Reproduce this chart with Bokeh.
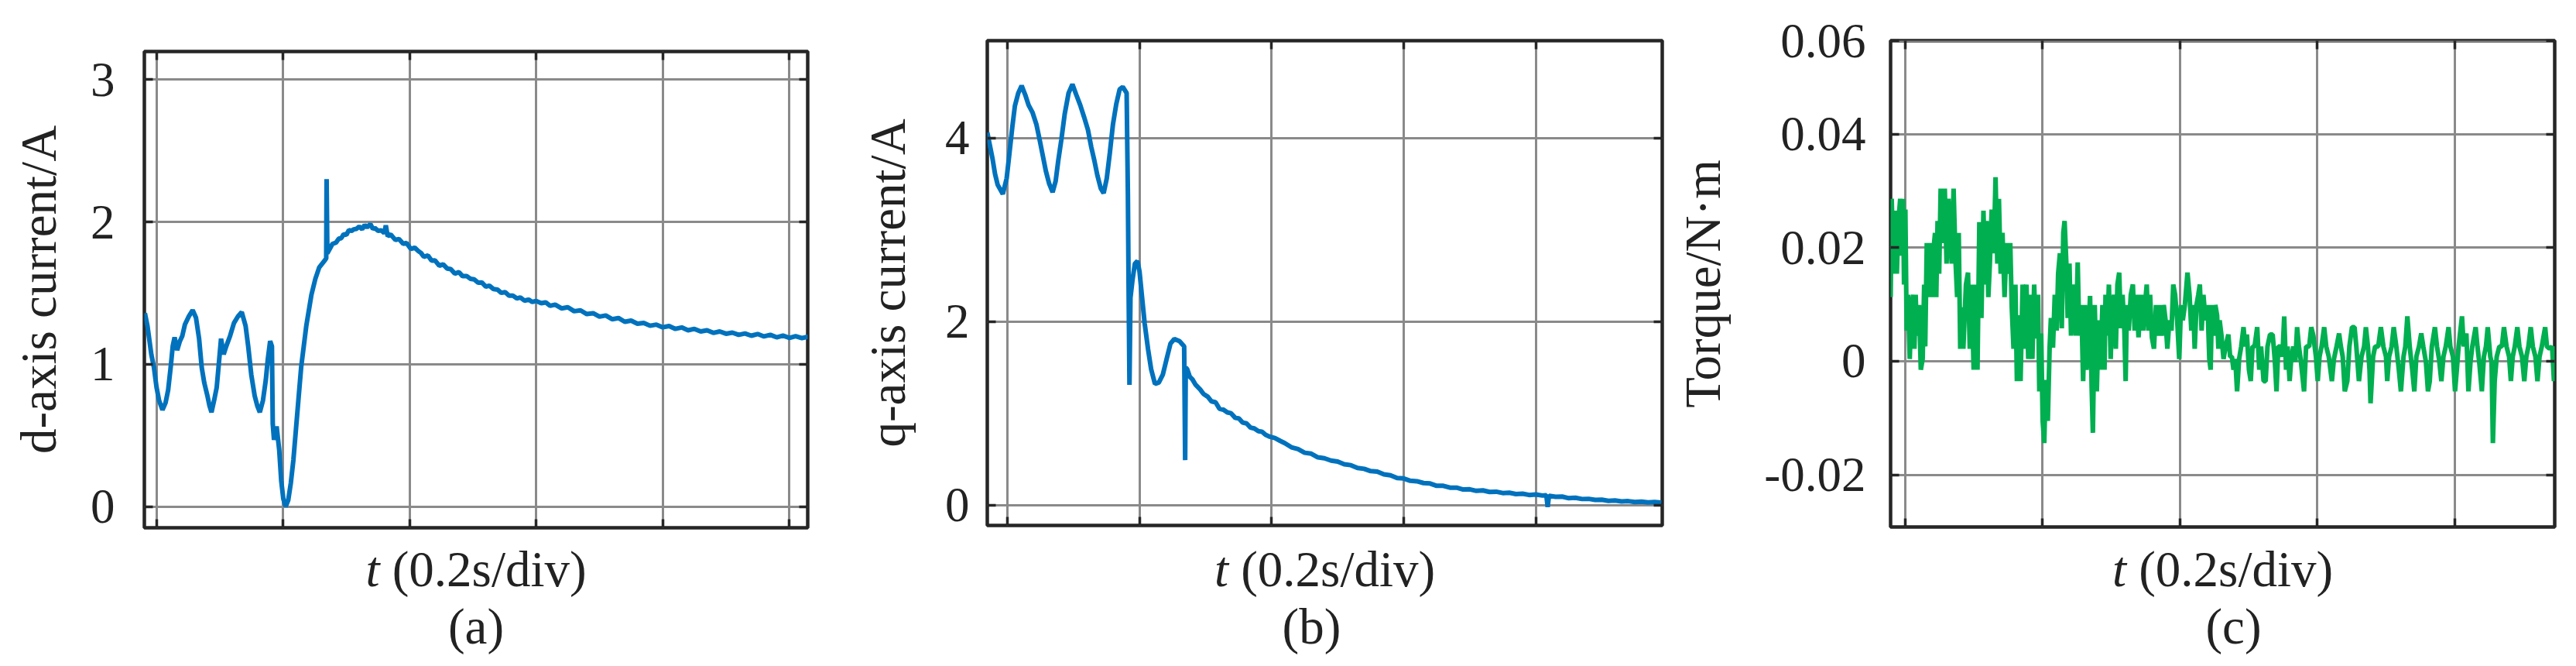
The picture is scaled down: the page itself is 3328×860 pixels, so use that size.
from bokeh.plotting import figure
from bokeh.models import Range1d, FixedTicker, LinearAxis, CustomJSTickFormatter
from bokeh.layouts import row, column
from bokeh.core.properties import value
from bokeh.embed import file_html
from bokeh.resources import INLINE

# ---------------- data ----------------
# (a) d-axis current [A] vs time [s]
t_a = [-0.0184, -0.0143, -0.0082, -0.0041, 0.0, 0.0041, 0.0094, 0.0143, 0.0184, 0.0224, 0.0257, 0.0286,
       0.0327, 0.0367, 0.0408, 0.0449, 0.0510, 0.0571, 0.0624, 0.0673, 0.0714, 0.0755, 0.0804, 0.0837,
       0.0869, 0.0910, 0.0951, 0.0980, 0.1020, 0.1061, 0.1102, 0.1163, 0.1224, 0.1286, 0.1347, 0.1408,
       0.1449, 0.1498, 0.1551, 0.1592, 0.1633, 0.1682, 0.1727, 0.1759, 0.1796, 0.1824, 0.1837, 0.1857,
       0.1898, 0.1939, 0.1971, 0.2004, 0.2041, 0.2082, 0.2122, 0.2163, 0.2204, 0.2245, 0.2286, 0.2327,
       0.2367, 0.2408, 0.2449, 0.2510, 0.2571, 0.2653, 0.2682, 0.2688, 0.2700, 0.2735, 0.2780, 0.2837,
       0.2880, 0.2920, 0.2959, 0.3000, 0.3040, 0.3082, 0.3120, 0.3160, 0.3204, 0.3250, 0.3290, 0.3327,
       0.3380, 0.3420, 0.3449, 0.3500, 0.3551, 0.3600, 0.3624, 0.3653, 0.3700, 0.3776, 0.3830, 0.3898,
       0.3950, 0.4020, 0.4080, 0.4143, 0.4180, 0.4224, 0.4290, 0.4347, 0.4400, 0.4469, 0.4530, 0.4592,
       0.4650, 0.4714, 0.4780, 0.4837, 0.4900, 0.4959, 0.5020, 0.5082, 0.5140, 0.5204, 0.5260, 0.5327,
       0.5390, 0.5449, 0.5510, 0.5571, 0.5630, 0.5694, 0.5750, 0.5816, 0.5880, 0.5939, 0.6000, 0.6080,
       0.6150, 0.6220, 0.6300, 0.6400, 0.6500, 0.6600, 0.6700, 0.6800, 0.6900, 0.7000, 0.7100, 0.7200,
       0.7300, 0.7400, 0.7500, 0.7600, 0.7700, 0.7800, 0.7900, 0.8000, 0.8100, 0.8200, 0.8300, 0.8400,
       0.8500, 0.8600, 0.8700, 0.8800, 0.8900, 0.9000, 0.9100, 0.9200, 0.9300, 0.9400, 0.9500, 0.9600,
       0.9700, 0.9800, 0.9900, 1.0000, 1.0100, 1.0200, 1.0300]
id_a = [1.36, 1.27, 1.07, 0.98, 0.84, 0.746, 0.68, 0.73, 0.82, 0.98, 1.13, 1.19,
        1.10, 1.16, 1.20, 1.28, 1.336, 1.38, 1.327, 1.18, 0.98, 0.87, 0.78, 0.71,
        0.664, 0.746, 0.837, 0.98, 1.18, 1.07, 1.127, 1.20, 1.29, 1.336, 1.367, 1.27,
        1.127, 0.927, 0.78, 0.71, 0.664, 0.746, 0.89, 1.036, 1.163, 1.127, 0.583, 0.47,
        0.565, 0.40, 0.183, 0.056, 0.002, 0.047, 0.165, 0.328, 0.546, 0.764, 0.98, 1.127,
        1.27, 1.38, 1.49, 1.60, 1.68, 1.726, 1.744, 2.30, 1.78, 1.808, 1.845, 1.855,
        1.882, 1.886, 1.914, 1.908, 1.942, 1.937, 1.948, 1.951, 1.968, 1.948, 1.978, 1.962,
        1.985, 1.950, 1.958, 1.938, 1.940, 1.922, 1.975, 1.900, 1.912, 1.873, 1.880, 1.846,
        1.852, 1.810, 1.819, 1.793, 1.782, 1.755, 1.764, 1.728, 1.730, 1.692, 1.702, 1.673,
        1.669, 1.637, 1.647, 1.619, 1.620, 1.601, 1.597, 1.573, 1.575, 1.546, 1.552, 1.528,
        1.525, 1.502, 1.507, 1.483, 1.483, 1.463, 1.470, 1.447, 1.455, 1.438, 1.445, 1.429,
        1.435, 1.411, 1.419, 1.393, 1.401, 1.373, 1.379, 1.353, 1.359, 1.335, 1.343, 1.317,
        1.325, 1.299, 1.307, 1.285, 1.291, 1.271, 1.279, 1.260, 1.269, 1.249, 1.259, 1.239,
        1.249, 1.231, 1.239, 1.221, 1.231, 1.215, 1.223, 1.207, 1.217, 1.201, 1.213, 1.196,
        1.207, 1.190, 1.202, 1.186, 1.198, 1.184, 1.195]

# (b) q-axis current [A] vs time [s]
t_b = [-0.0305, -0.0266, -0.0227, -0.0188, -0.0148, -0.0070, -0.0012, 0.0027, 0.0074, 0.0113, 0.0164,
       0.0215, 0.0270, 0.0320, 0.0379, 0.0438, 0.0488, 0.0535, 0.0582, 0.0633, 0.0684, 0.0730, 0.0770,
       0.0816, 0.0867, 0.0926, 0.0984, 0.1043, 0.1102, 0.1160, 0.1219, 0.1270, 0.1316, 0.1363, 0.1414,
       0.1457, 0.1504, 0.1551, 0.1598, 0.1648, 0.1699, 0.1746, 0.1805, 0.1824, 0.1836, 0.1848, 0.1863,
       0.1895, 0.1930, 0.1969, 0.2000, 0.2039, 0.2078, 0.2129, 0.2176, 0.2234, 0.2293, 0.2352, 0.2410,
       0.2469, 0.2527, 0.2605, 0.2676, 0.2691, 0.2700, 0.2723, 0.2760, 0.2801, 0.2850, 0.2918, 0.2970,
       0.3035, 0.3090, 0.3152, 0.3210, 0.3270, 0.3330, 0.3387, 0.3450, 0.3504, 0.3560, 0.3621, 0.3680,
       0.3738, 0.3800, 0.3855, 0.3910, 0.3973, 0.4050, 0.4129, 0.4200, 0.4300, 0.4400, 0.4500, 0.4600,
       0.4700, 0.4800, 0.4900, 0.5000, 0.5100, 0.5200, 0.5300, 0.5400, 0.5500, 0.5600, 0.5700, 0.5800,
       0.5900, 0.6000, 0.6100, 0.6200, 0.6300, 0.6400, 0.6500, 0.6600, 0.6700, 0.6800, 0.6900, 0.7000,
       0.7100, 0.7200, 0.7300, 0.7400, 0.7500, 0.7600, 0.7700, 0.7800, 0.7900, 0.8000, 0.8100, 0.8160,
       0.8180, 0.8200, 0.8300, 0.8400, 0.8500, 0.8600, 0.8700, 0.8800, 0.8900, 0.9000, 0.9100, 0.9200,
       0.9300, 0.9400, 0.9500, 0.9600, 0.9700, 0.9800, 0.9900]
iq_b = [4.06, 3.92, 3.78, 3.61, 3.49, 3.39, 3.56, 3.81, 4.12, 4.35, 4.49,
        4.57, 4.47, 4.36, 4.28, 4.15, 3.98, 3.81, 3.64, 3.50, 3.41, 3.53, 3.755,
        3.98, 4.26, 4.49, 4.585, 4.47, 4.36, 4.23, 4.09, 3.90, 3.755, 3.59, 3.45,
        3.40, 3.56, 3.84, 4.15, 4.37, 4.53, 4.557, 4.49, 3.39, 2.26, 1.31, 2.26,
        2.46, 2.63, 2.66, 2.545, 2.26, 1.98, 1.70, 1.48, 1.32, 1.336, 1.42, 1.59,
        1.76, 1.81, 1.786, 1.73, 0.49, 1.50, 1.48, 1.40, 1.37, 1.31, 1.26, 1.21,
        1.18, 1.13, 1.12, 1.05, 1.04, 1.01, 1.00, 0.95, 0.945, 0.90, 0.89, 0.845,
        0.835, 0.805, 0.80, 0.765, 0.745, 0.73, 0.70, 0.675, 0.63, 0.61, 0.57, 0.56,
        0.52, 0.51, 0.485, 0.475, 0.445, 0.435, 0.405, 0.395, 0.37, 0.365, 0.335, 0.325,
        0.295, 0.29, 0.265, 0.26, 0.24, 0.235, 0.21, 0.21, 0.19, 0.19, 0.17, 0.172,
        0.155, 0.16, 0.143, 0.146, 0.131, 0.134, 0.12, 0.124, 0.11, 0.116, 0.104, 0.108,
        -0.02, 0.102, 0.09, 0.092, 0.075, 0.08, 0.066, 0.068, 0.056, 0.058, 0.046, 0.050,
        0.040, 0.043, 0.033, 0.038, 0.029, 0.034, 0.027]

# (c) torque [N·m] vs time [ms]
t_c_ms = [-23.5, -21.3, -19.8, -16.8, -14.5, -12.3, -10.0, -7.4, -4.8, -3.3, -1.8, 0.1, 2.0, 3.9, 6.5,
          8.8, 11.4, 13.3, 15.1, 17.0, 20.0, 22.6, 25.3, 27.5, 29.0, 31.3, 33.9, 36.5, 38.8, 40.6,
          43.3, 45.1, 47.0, 49.3, 51.5, 54.5, 57.5, 60.1, 62.8, 65.0, 67.6, 70.3, 73.3, 75.5, 77.8,
          80.0, 81.9, 84.5, 88.3, 91.3, 93.9, 96.5, 99.5, 102.5, 105.1, 107.8, 110.8, 113.8, 116.4,
          118.3, 120.9, 123.1, 125.8, 128.8, 131.4, 134.0, 136.3, 138.9, 141.5, 144.5, 147.5, 150.1,
          152.8, 155.0, 157.6, 160.3, 162.5, 165.1, 167.8, 170.8, 173.8, 176.4, 179.0, 182.0, 185.0,
          187.6, 190.3, 193.3, 195.1, 197.8, 200.0, 202.3, 204.5, 207.5, 210.1, 212.0, 215.0, 217.6,
          220.3, 222.5, 225.1, 227.8, 230.0, 231.9, 234.5, 236.4, 239.0, 241.3, 243.5, 245.8, 248.4,
          251.0, 253.3, 256.3, 258.9, 261.5, 263.8, 266.4, 269.0, 271.3, 273.1, 275.8, 278.8, 281.4,
          284.0, 287.0, 290.0, 291.5, 293.8, 296.4, 299.0, 301.3, 303.9, 306.5, 308.8, 311.4, 314.0,
          316.3, 318.9, 320.8, 322.6, 325.3, 328.3, 331.3, 333.9, 336.5, 339.5, 343.3, 346.3, 348.9,
          351.5, 353.8, 356.4, 359.0, 362.0, 365.0, 367.6, 370.3, 373.3, 376.3, 378.9, 381.5, 384.5,
          387.5, 390.1, 392.8, 395.8, 398.8, 401.4, 404.0, 407.0, 410.8, 413.8, 416.4, 419.0, 421.3,
          423.9, 426.5, 428.8, 431.4, 434.0, 437.0, 440.0, 442.6, 444.5, 446.4, 449.0, 451.3, 453.9,
          455.8, 457.6, 460.3, 463.3, 466.3, 470.3, 472.9, 475.5, 477.8, 480.4, 483.0, 486.0, 489.0,
          492.4, 494.6, 497.3, 500.3, 502.9, 505.5, 508.5, 512.3, 515.3, 517.9, 521.6, 524.6, 527.3,
          531.0, 534.8, 537.8, 540.4, 543.0, 546.0, 549.0, 551.6, 554.3, 556.5, 559.5, 561.8, 564.8,
          567.8, 570.4, 573.0, 576.0, 580.5, 583.5, 588.0, 591.0, 594.0, 597.8, 600.4, 603.0, 606.0,
          609.8, 612.8, 616.5, 621.0, 624.0, 627.8, 631.5, 634.1, 636.8, 639.8, 643.5, 646.5, 650.3,
          654.0, 656.6, 660.4, 664.1, 667.9, 670.5, 673.5, 675.8, 677.3, 681.0, 684.0, 688.5, 692.3,
          696.0, 699.8, 701.6, 704.3, 708.0, 711.0, 714.8, 718.5, 721.5, 725.3, 727.9, 730.9, 734.3,
          738.0, 741.0, 744.0, 747.8, 751.1, 754.1, 757.9, 760.9, 763.5, 766.5, 771.0, 774.0, 777.0,
          780.4, 783.4, 786.8, 790.9, 793.5, 797.3, 800.3, 802.9, 805.5, 810.4, 813.0, 816.8, 819.8,
          822.8, 825.4, 830.3, 832.9, 835.5, 839.3, 842.3, 845.3, 847.9, 851.6, 853.5, 855.4, 858.0,
          861.0, 864.8, 868.5, 871.5, 875.3, 879.0, 881.6, 884.3, 887.3, 891.0, 894.0, 897.8, 901.1,
          904.1, 907.1, 910.5, 913.5, 917.3, 920.3, 923.3, 926.6, 931.5, 934.1, 937.9, 941.6, 944.3,
          947.3]
te_c = [0.0236, 0.0113, 0.0286, 0.0154, 0.0265, 0.0154, 0.0245, 0.0286, 0.0186, 0.0286, 0.0135, 0.0267,
        0.0054, 0.0117, 0.0004, 0.0099, 0.0117, 0.0022, 0.0117, 0.0045, 0.0099, -0.0015, 0.0004, 0.0135,
        0.0026, 0.0208, 0.0113, 0.0208, 0.0113, 0.0190, 0.0226, 0.0113, 0.0247, 0.0154, 0.0304, 0.0208,
        0.0304, 0.0172, 0.0286, 0.0226, 0.0172, 0.0304, 0.0172, 0.0113, 0.0226, 0.0022, 0.0095, 0.0022,
        0.0135, 0.0156, 0.0022, 0.0135, -0.0015, 0.0135, -0.0015, 0.0245, 0.0076, 0.0265, 0.0135, 0.0247,
        0.0113, 0.0172, 0.0267, 0.0190, 0.0324, 0.0172, 0.0286, 0.0154, 0.0226, 0.0113, 0.0208, 0.0154,
        0.0208, 0.0095, 0.0022, 0.0135, -0.0035, 0.0081, -0.0035, 0.0135, 0.0022, 0.0135, 0.0004, 0.0117,
        0.0004, 0.0135, 0.0040, 0.0117, -0.0053, 0.0049, -0.0105, -0.0144, -0.0033, -0.0105, 0.0024,
        0.0076, 0.0024, 0.0117, 0.0054, 0.0154, 0.0190, 0.0058, 0.0226, 0.0247, 0.0172, 0.0076, 0.0172,
        0.0045, 0.0099, 0.0135, 0.0045, 0.0174, 0.0045, 0.0099, -0.0035, 0.0099, -0.0015, 0.0040, 0.0115,
        -0.0046, -0.0126, 0.0099, -0.0053, 0.0072, -0.0015, 0.0099, -0.0015, 0.0117, 0.0045, 0.0135,
        0.0004, 0.0099, 0.0117, 0.0022, 0.0135, 0.0156, 0.0058, 0.0117, 0.0054, -0.0035, 0.0099, 0.0054,
        0.0117, 0.0135, 0.0054, 0.0117, 0.0042, 0.0117, 0.0054, 0.0099, 0.0135, 0.0054, 0.0117, 0.0042,
        0.0022, 0.0099, 0.0045, 0.0099, 0.0045, 0.0099, 0.0072, 0.0022, 0.0072, 0.0054, 0.0135, 0.0117,
        0.0072, 0.0004, 0.0099, 0.0072, 0.0099, 0.0156, 0.0117, 0.0054, 0.0099, 0.0022, 0.0099, 0.0117,
        0.0135, 0.0054, 0.0117, 0.0072, 0.0099, 0.0004, -0.0015, 0.0099, 0.0045, 0.0099, 0.0081, 0.0022,
        0.0072, 0.0045, 0.0004, 0.0026, 0.0047, 0.0008, 0.0008, -0.0015, 0.0004, -0.0053, 0.0004, 0.0026,
        0.0060, 0.0026, 0.0047, -0.0015, -0.0035, 0.0026, 0.0026, 0.0060, -0.0015, 0.0026, -0.0035,
        -0.0035, 0.0026, 0.0047, 0.0047, 0.0004, -0.0053, 0.0026, 0.0026, 0.0008, 0.0079, -0.0015, 0.0026,
        -0.0035, 0.0004, 0.0026, -0.0001, 0.0060, 0.0026, -0.0001, -0.0053, 0.0026, 0.0026, 0.0060, 0.0045,
        0.0008, -0.0035, 0.0008, 0.0026, 0.0060, 0.0026, 0.0008, -0.0035, 0.0004, 0.0026, 0.0049, 0.0026,
        0.0008, -0.0053, -0.0035, 0.0026, 0.0060, 0.0060, 0.0026, -0.0035, 0.0008, 0.0026, 0.0060, 0.0026,
        -0.0015, -0.0074, 0.0008, 0.0026, 0.0026, 0.0060, 0.0026, 0.0008, -0.0035, 0.0008, 0.0026, 0.0060,
        0.0026, -0.0015, -0.0053, 0.0008, 0.0026, 0.0079, 0.0026, -0.0015, -0.0053, 0.0008, 0.0026, 0.0049,
        0.0026, -0.0001, -0.0053, -0.0035, 0.0026, 0.0060, 0.0026, 0.0004, -0.0035, 0.0008, 0.0026, 0.0060,
        0.0026, 0.0008, -0.0053, -0.0015, 0.0026, 0.0079, 0.0026, 0.0049, -0.0053, -0.0001, 0.0026, 0.0060,
        0.0026, -0.0001, -0.0053, 0.0008, 0.0026, 0.0060, 0.0008, -0.0001, -0.0144, -0.0035, 0.0008, 0.0026,
        0.0026, 0.0060, 0.0026, 0.0008, -0.0035, 0.0008, 0.0026, 0.0060, 0.0026, 0.0008, -0.0035, 0.0008,
        0.0026, 0.0060, 0.0026, 0.0008, -0.0035, 0.0008, 0.0026, 0.0060, 0.0026, 0.0022, 0.0026, -0.0035,
        0.0026]
t_c = [v / 1000.0 for v in t_c_ms]

x_grid = [0.0, 0.2, 0.4, 0.6, 0.8, 1.0]
y_ticks_a = [0, 1, 2, 3]
y_ticks_b = [0, 2, 4]
y_ticks_c = [-0.02, 0.0, 0.02, 0.04, 0.0564]
y_labels_c = {-0.02: "-0.02", 0.0: "0", 0.02: "0.02", 0.04: "0.04", 0.0564: "0.06"}
x_title = ["t", "(0.2s/div)"]
tags = ["(a)", "(b)", "(c)"]

# ---------------- style ----------------
FONT = "Liberation Serif"
INK = "#222222"
FRAME = "#262626"
GRID = "#8a8a8a"
BLUE = "#0072BD"
GREEN = "#00AF50"
TICK_FS = "63px"
LAB_FS = "65px"
TOTAL_H = 854
BOTTOM_B = 14
BASE_TITLE = 734   # page y of the x-title baseline (renderer adds ~20px)
BASE_TAG = 808     # page y of the panel-tag baseline


def style_axis(ax, ticker, show_labels):
    ax.ticker = ticker
    ax.axis_line_color = None
    ax.major_tick_in = 11
    ax.major_tick_out = 0
    ax.major_tick_line_color = FRAME
    ax.major_tick_line_width = 3.5
    ax.minor_tick_line_color = None
    ax.major_label_text_font = FONT
    ax.major_label_text_color = INK
    if show_labels:
        ax.major_label_text_font_size = TICK_FS
    else:
        ax.formatter = CustomJSTickFormatter(code="return ''")
        ax.major_label_standoff = 0
        ax.major_label_text_font_size = "0px"


def panel(x, y, color, lw, xr, yr, yticks, ylabel, frame_w, frame_h, bl, br, bt,
          tick_standoff, label_standoff, tag, tag_dx, overrides=None):
    bb = BOTTOM_B
    p = figure(output_backend="svg", toolbar_location=None,
               frame_width=frame_w, frame_height=frame_h,
               x_range=Range1d(*xr), y_range=Range1d(*yr),
               min_border_left=bl, min_border_right=br,
               min_border_top=bt, min_border_bottom=bb)
    p.background_fill_color = "white"
    p.border_fill_color = "white"
    p.outline_line_color = FRAME
    p.outline_line_width = 4.5

    xt = FixedTicker(ticks=x_grid)
    yt = FixedTicker(ticks=yticks)
    style_axis(p.xaxis[0], xt, False)
    style_axis(p.yaxis[0], yt, True)
    p.yaxis[0].major_label_standoff = tick_standoff
    if overrides:
        p.yaxis[0].major_label_overrides = overrides
    p.yaxis[0].axis_label = ylabel
    p.yaxis[0].axis_label_text_font = FONT
    p.yaxis[0].axis_label_text_font_style = "normal"
    p.yaxis[0].axis_label_text_font_size = LAB_FS
    p.yaxis[0].axis_label_text_color = INK
    p.yaxis[0].axis_label_standoff = label_standoff

    r_ax = LinearAxis()
    style_axis(r_ax, yt, False)
    p.add_layout(r_ax, "right")
    t_ax = LinearAxis()
    style_axis(t_ax, xt, False)
    p.add_layout(t_ax, "above")

    p.xgrid.ticker = xt
    p.ygrid.ticker = yt
    p.grid.grid_line_color = GRID
    p.grid.grid_line_width = 3

    p.line(x, y, line_color=color, line_width=lw)

    # caption strip below the plot, same horizontal geometry
    top = bt + frame_h + bb
    cap_h = TOTAL_H - top
    c = figure(output_backend="svg", toolbar_location=None,
               frame_width=frame_w, frame_height=cap_h,
               x_range=Range1d(*xr), y_range=Range1d(cap_h, 0),
               min_border_left=bl, min_border_right=br,
               min_border_top=0, min_border_bottom=0)
    c.axis.visible = False
    c.grid.visible = False
    c.outline_line_color = None
    c.background_fill_color = "white"
    c.border_fill_color = "white"
    xc = (xr[0] + xr[1]) / 2.0
    base1 = BASE_TITLE - top
    base2 = BASE_TAG - top
    c.text(x=[xc], y=[base1], text=[x_title[0]], x_offset=-142.6,
           text_font=value(FONT), text_font_style="italic", text_font_size=LAB_FS,
           text_color=INK, text_align="left", text_baseline="alphabetic")
    c.text(x=[xc], y=[base1], text=[x_title[1]], x_offset=-108.3,
           text_font=value(FONT), text_font_size=LAB_FS,
           text_color=INK, text_align="left", text_baseline="alphabetic")
    c.text(x=[xc], y=[base2], text=[tag], x_offset=tag_dx,
           text_font=value(FONT), text_font_size=LAB_FS,
           text_color=INK, text_align="center", text_baseline="alphabetic")
    return column(p, c)


pa = panel(t_a, id_a, BLUE, 6, (-0.0192, 1.0291), (-0.147, 3.196), y_ticks_a, "d-axis current/A",
           857, 615, 186, 52, 66, 38, 28, tags[0], 0)
pb = panel(t_b, iq_b, BLUE, 6, (-0.0305, 0.9915), (-0.222, 5.061), y_ticks_b, "q-axis current/A",
           872, 626, 180, 14, 52, 23, 35, tags[1], -17)
pc = panel(t_c, te_c, GREEN, 6, (-0.0214, 0.9454), (-0.02918, 0.05644), y_ticks_c, "Torque/N\u00b7m",
           858, 628, 275, 30, 52, 32, 40, tags[2], 14, overrides=y_labels_c)

layout = row(pa, pb, pc)
open("out.html", "w").write(file_html(layout, INLINE))
